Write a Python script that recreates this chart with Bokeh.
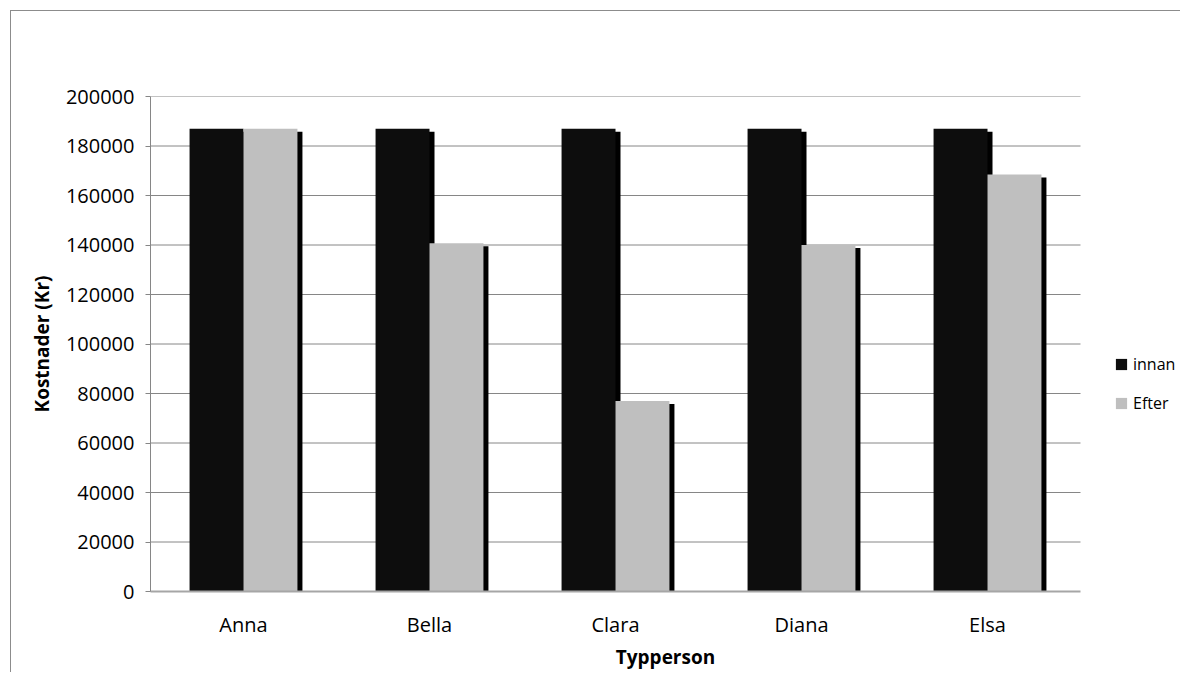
from bokeh.plotting import figure
from bokeh.models import (ColumnDataSource, Range1d, Legend, LegendItem, NumeralTickFormatter,
                          FixedTicker)
from bokeh.embed import file_html
from bokeh.resources import INLINE

categories = ["Anna", "Bella", "Clara", "Diana", "Elsa"]
innan = [187000, 187000, 187000, 187000, 187000]
efter = [187000, 140700, 77000, 140000, 168500]
series_names = ["innan", "Efter"]
y_ticks = [0, 20000, 40000, 60000, 80000, 100000, 120000, 140000, 160000, 180000, 200000]

FONT = "Open Sans"
FRAME_LEFT, FRAME_RIGHT_PLOT, FIG_W = 150, 1080, 1180
SHADOW_DX = 5      # px
SHADOW_DY = 3      # px
n = len(categories)
PX_PER_CAT = (FRAME_RIGHT_PLOT - FRAME_LEFT) / n
PX_PER_UNIT = 495.0 / 200000

dx = SHADOW_DX / PX_PER_CAT
dy = SHADOW_DY / PX_PER_UNIT
w = 0.29
off = 0.145

centers = [i + 0.5 for i in range(n)]
src = ColumnDataSource(dict(
    x_in=[c - off for c in centers],
    x_ef=[c + off for c in centers],
    x_in_sh=[c - off + dx for c in centers],
    x_ef_sh=[c + off + dx for c in centers],
    innan=innan,
    efter=efter,
    innan_sh=[v - dy for v in innan],
    efter_sh=[v - dy for v in efter],
))

x_end = n * (FIG_W - FRAME_LEFT) / (FRAME_RIGHT_PLOT - FRAME_LEFT)
p = figure(
    x_range=Range1d(0, x_end),
    y_range=Range1d(0, y_ticks[-1]),
    width=FIG_W, height=672,
    output_backend="svg", toolbar_location=None,
    min_border_left=FRAME_LEFT, min_border_right=0,
    min_border_top=96, min_border_bottom=81,
    outline_line_color=None,
)
p.border_fill_color = None
p.background_fill_color = None
p.styles = {
    "background-color": "white",
    "background-image": "linear-gradient(#8c8c8c, #8c8c8c), linear-gradient(#8c8c8c, #8c8c8c)",
    "background-position": "10px 10px, 10px 10px",
    "background-size": "1px 100%, 100% 1px",
    "background-repeat": "no-repeat, no-repeat",
}

# grid lines limited to the plot area
p.xgrid.grid_line_color = None
p.ygrid.grid_line_color = None
p.segment(x0=[0] * (len(y_ticks) - 1), x1=[n] * (len(y_ticks) - 1),
          y0=y_ticks[1:], y1=y_ticks[1:], line_color="#868686", line_width=1)

p.vbar(x="x_in_sh", top="innan_sh", width=w, source=src, fill_color="#000000", line_color=None)
p.vbar(x="x_ef_sh", top="efter_sh", width=w, source=src, fill_color="#000000", line_color=None)
r1 = p.vbar(x="x_in", top="innan", width=w, source=src, fill_color="#0d0d0d", line_color=None)
r2 = p.vbar(x="x_ef", top="efter", width=w, source=src, fill_color="#bfbfbf", line_color=None)

# y axis
p.yaxis.ticker = FixedTicker(ticks=y_ticks)
p.yaxis.formatter = NumeralTickFormatter(format="0")
p.yaxis.axis_line_color = "#868686"
p.yaxis.major_tick_line_color = "#868686"
p.yaxis.major_tick_out = 5
p.yaxis.major_tick_in = 0
p.yaxis.minor_tick_line_color = None
p.yaxis.major_label_text_font = FONT
p.yaxis.major_label_text_font_size = "20px"
p.yaxis.major_label_text_color = "#000000"
p.yaxis.major_label_standoff = 11
p.yaxis.axis_label = "Kostnader (Kr)"
p.yaxis.axis_label_text_font = FONT
p.yaxis.axis_label_text_font_style = "bold"
p.yaxis.axis_label_text_font_size = "19px"
p.yaxis.axis_label_text_color = "#000000"
p.yaxis.axis_label_standoff = 8

# x axis
p.xaxis.ticker = FixedTicker(ticks=centers)
p.xaxis.major_label_overrides = {c: name for c, name in zip(centers, categories)}
p.xaxis.bounds = (0, n)
p.xaxis.axis_line_color = "#a6a6a6"
p.xaxis.axis_line_width = 2
p.xaxis.major_tick_line_color = None
p.xaxis.minor_tick_line_color = None
p.xaxis.major_label_text_font = FONT
p.xaxis.major_label_text_font_size = "20px"
p.xaxis.major_label_text_color = "#000000"
p.xaxis.major_label_standoff = 13
p.xaxis.axis_label = "Typperson"
p.xaxis.axis_label_text_font = FONT
p.xaxis.axis_label_text_font_style = "bold"
p.xaxis.axis_label_text_font_size = "19px"
p.xaxis.axis_label_text_color = "#000000"
p.xaxis.axis_label_standoff = 3

legend = Legend(
    items=[LegendItem(label=series_names[0], renderers=[r1]),
           LegendItem(label=series_names[1], renderers=[r2])],
    location=(964, 177),
    border_line_color=None, background_fill_alpha=0,
    glyph_width=14, glyph_height=14, label_height=20,
    spacing=17, padding=0, margin=0, label_standoff=5,
    label_text_font=FONT, label_text_font_size="16px",
    label_text_color="#000000",
)
p.add_layout(legend, "center")

open("out.html", "w").write(file_html(p, INLINE))
